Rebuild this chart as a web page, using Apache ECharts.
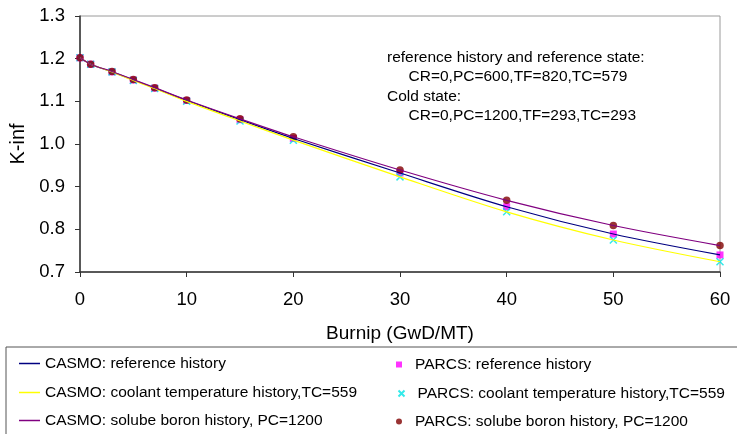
<!DOCTYPE html>
<html>
<head>
<meta charset="utf-8">
<script src="https://cdn.jsdelivr.net/npm/echarts@6/dist/echarts.min.js"></script>
<style>
  html, body { margin: 0; padding: 0; background: #fff; }
  #chart { width: 737px; height: 434px; }
</style>
</head>
<body>
<div id="chart"></div>
<script>
var burnup = [0, 1, 3, 5, 7, 10, 15, 20, 30, 40, 50, 60];
var refHist = [1.202, 1.187, 1.169, 1.150, 1.131, 1.102, 1.057, 1.013, 0.932, 0.853, 0.789, 0.740];
var tcHist = [1.202, 1.187, 1.169, 1.149, 1.130, 1.100, 1.054, 1.009, 0.923, 0.841, 0.775, 0.724];
var pcHist = [1.202, 1.187, 1.170, 1.151, 1.132, 1.103, 1.059, 1.017, 0.939, 0.868, 0.809, 0.762];
var yTicks = [0.7, 0.8, 0.9, 1.0, 1.1, 1.2, 1.3];

var casmoNames = ['CASMO: reference history', 'CASMO: coolant temperature history,TC=559', 'CASMO: solube boron history, PC=1200'];
var parcsNames = ['PARCS: reference history', 'PARCS: coolant temperature history,TC=559', 'PARCS: solube boron history, PC=1200'];

function pairs(xs, ys) {
    var out = [];
    for (var i = 0; i < xs.length; i++) out.push([xs[i], ys[i]]);
    return out;
}

var font = 'Liberation Sans, Arial, sans-serif';
var rowY = [363, 392, 420];
var legends = [];
for (var i = 0; i < 3; i++) {
    legends.push({
        left: 19, top: rowY[i] - 7.5, padding: 0, icon: 'rect',
        itemWidth: 21, itemHeight: 1.5,
        textStyle: { fontFamily: font, fontSize: 15.5, color: '#000' },
        data: [casmoNames[i]]
    });
    legends.push({
        left: 396, top: rowY[i] - 6.5, padding: 0,
        itemWidth: 6, itemHeight: 6,
        textStyle: { fontFamily: font, fontSize: 15.5, color: '#000', padding: [0, 0, 0, 8] },
        data: [parcsNames[i]]
    });
}

var myChart = echarts.init(document.getElementById('chart'));

var option = {
    animation: false,
    grid: {
        left: 80, right: 17, top: 16, bottom: 162,
        containLabel: false, outerBoundsMode: 'none',
        show: true, borderColor: '#9a9a9a', borderWidth: 1
    },
    xAxis: {
        type: 'value', min: 0, max: 60, interval: 10,
        name: 'Burnip (GwD/MT)', nameLocation: 'middle', nameGap: 52,
        nameTextStyle: { fontFamily: font, fontSize: 19, color: '#000' },
        axisLine: { lineStyle: { color: '#333', width: 1.5 } },
        axisTick: { lineStyle: { color: '#333' }, length: 5 },
        axisLabel: { fontFamily: font, fontSize: 18.5, color: '#000', margin: 18 },
        splitLine: { show: false }
    },
    yAxis: {
        type: 'value', min: yTicks[0], max: yTicks[yTicks.length - 1], interval: 0.1,
        name: 'K-inf', nameLocation: 'middle', nameGap: 52, nameRotate: 90,
        nameTextStyle: { fontFamily: font, fontSize: 20, color: '#000' },
        axisLine: { show: true, lineStyle: { color: '#333', width: 1.5 } },
        axisTick: { show: true, lineStyle: { color: '#333' }, length: 5 },
        axisLabel: { fontFamily: font, fontSize: 18.5, color: '#000', margin: 15,
            formatter: function (v) { return v.toFixed(1); } },
        splitLine: { show: false }
    },
    legend: legends,
    graphic: [{
        type: 'rect', shape: { x: 6, y: 347, width: 740, height: 100 },
        style: { fill: 'none', stroke: '#555', lineWidth: 1 }
    }, {
        type: 'text', left: 387, top: 48,
        style: {
            text: 'reference history and reference state:\n     CR=0,PC=600,TF=820,TC=579\nCold state:\n     CR=0,PC=1200,TF=293,TC=293',
            font: '15.5px Liberation Sans, Arial, sans-serif', fill: '#000', lineHeight: 19.4
        }
    }],
    series: [{
        name: casmoNames[0], type: 'line', smooth: 0.3, symbol: 'none',
        lineStyle: { color: '#000080', width: 1.2 }, itemStyle: { color: '#000080' },
        data: pairs(burnup, refHist)
    }, {
        name: casmoNames[1], type: 'line', smooth: 0.3, symbol: 'none',
        lineStyle: { color: '#ffff00', width: 1.2 }, itemStyle: { color: '#ffff00' },
        data: pairs(burnup, tcHist)
    }, {
        name: casmoNames[2], type: 'line', smooth: 0.3, symbol: 'none',
        lineStyle: { color: '#800080', width: 1.2 }, itemStyle: { color: '#800080' },
        data: pairs(burnup, pcHist)
    }, {
        name: parcsNames[0], type: 'scatter', symbol: 'rect', symbolSize: 7,
        itemStyle: { color: '#ff00ff' },
        data: pairs(burnup, refHist)
    }, {
        name: parcsNames[1], type: 'scatter',
        symbol: 'path://M0,0L10,10M10,0L0,10', symbolSize: 7,
        itemStyle: { color: 'none', borderColor: '#00e5e5', borderWidth: 1.5 },
        data: pairs(burnup, tcHist)
    }, {
        name: parcsNames[2], type: 'scatter', symbol: 'circle', symbolSize: 7.5,
        itemStyle: { color: '#800000' },
        data: pairs(burnup, pcHist)
    }]
};

myChart.setOption(option);
</script>
</body>
</html>
